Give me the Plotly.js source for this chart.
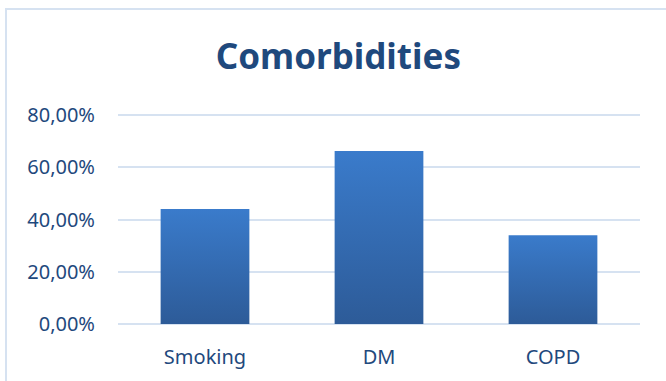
<!DOCTYPE html>
<html><head><meta charset="utf-8">
<script src="https://cdn.plot.ly/plotly-3.0.1.min.js"></script>
<style>html,body{margin:0;padding:0;background:#fff}#chart{width:666px;height:381px}</style>
</head><body><div id="chart"></div>
<script>
const categories = ["Smoking", "DM", "COPD"];
const values = [44.0, 66.2, 34.0];
const tickVals = [0, 20, 40, 60, 80];
const tickLabels = ["0,00%", "20,00%", "40,00%", "60,00%", "80,00%"];

const txt = '#1F497D';
const W = 666, H = 381, L = 118, R = 26, T = 114, B = 56;
const pw = W - L - R, ph = H - T - B;
function px(x){return (x - L)/pw;}
function py(y){return (H - B - y)/ph;}

const data = [{
  type: 'bar', x: categories, y: values, width: 0.51,
  marker: {color: '#3468AE', line: {width: 0}},
  hoverinfo: 'none'
}];
const layout = {
  width: W, height: H,
  margin: {l: L, r: R, t: T, b: B},
  paper_bgcolor: '#fff', plot_bgcolor: '#fff',
  showlegend: false,
  font: {family: 'Noto Sans, Open Sans, sans-serif', color: txt, size: 18},
  title: {text: '<b>Comorbidities</b>', x: 0.508, xanchor: 'center', y: 1 - 57/H, yanchor: 'middle',
          font: {size: 35, color: txt, family: 'Noto Sans, sans-serif'}},
  xaxis: {showgrid: false, zeroline: false, showline: false, ticks: '', ticklabelstandoff: 18,
          tickfont: {size: 20, color: txt}},
  yaxis: {range: [-0.4, 80.4], tickvals: tickVals, ticktext: tickLabels,
          showgrid: true, gridcolor: '#D6E2F1', gridwidth: 2, zeroline: false, showline: false,
          ticks: '', ticklabelstandoff: 22, tickfont: {size: 20, color: txt}},
  shapes: [{type: 'rect', xref: 'paper', yref: 'paper', x0: px(6), x1: px(670), y0: py(385), y1: py(9),
            line: {color: '#D6E2F1', width: 2}, fillcolor: 'rgba(0,0,0,0)', layer: 'below'}]
};
Plotly.newPlot('chart', data, layout, {displayModeBar: false, staticPlot: true}).then(function(gd){
  const svg = gd.querySelector('svg.main-svg');
  const ns = 'http://www.w3.org/2000/svg';
  let defs = svg.querySelector('defs');
  if(!defs){defs = document.createElementNS(ns,'defs'); svg.insertBefore(defs, svg.firstChild);}
  const g = document.createElementNS(ns,'linearGradient');
  g.setAttribute('id','barGrad'); g.setAttribute('x1','0'); g.setAttribute('y1','0'); g.setAttribute('x2','0'); g.setAttribute('y2','1');
  [['0','#3A7BCB'],['1','#2D5B98']].forEach(function(s){
    const st = document.createElementNS(ns,'stop'); st.setAttribute('offset', s[0]); st.setAttribute('stop-color', s[1]); g.appendChild(st);
  });
  defs.appendChild(g);
  gd.querySelectorAll('.bars .point path').forEach(function(p){ p.style.fill = 'url(#barGrad)'; });
});
</script></body></html>
